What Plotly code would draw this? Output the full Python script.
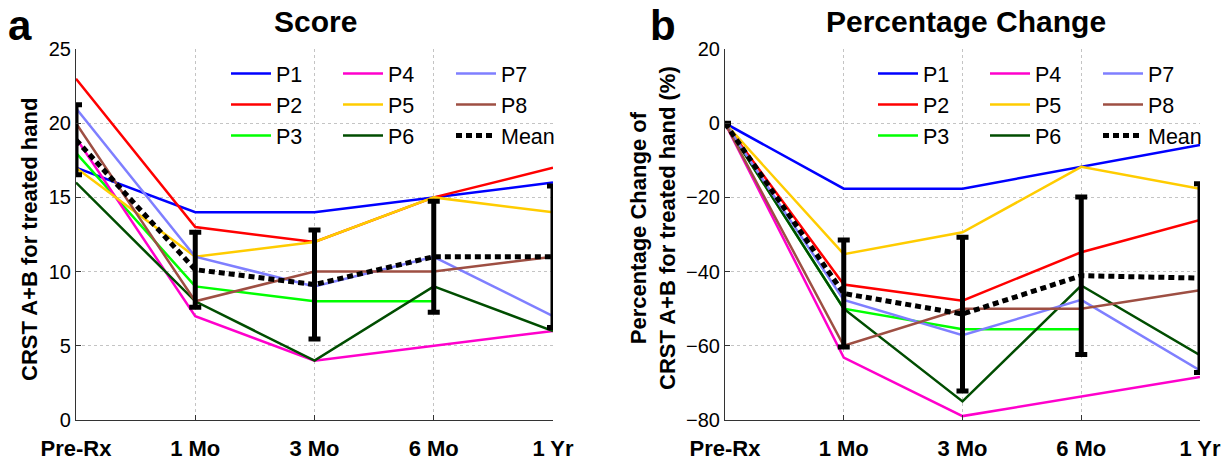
import plotly.graph_objects as go

categories = ["Pre-Rx", "1 Mo", "3 Mo", "6 Mo", "1 Yr"]
names = ["P1", "P2", "P3", "P4", "P5", "P6", "P7", "P8"]
colors = ["#0000FF", "#FF0000", "#00FF00", "#FF00CC", "#FFCC00", "#004D00", "#7F7FFF", "#9E4F43"]

# Score (CRST A+B), None = missing
score_p1 = [17, 14, 14, 15, 16]
score_p2 = [23, 13, 12, 15, 17]
score_p3 = [18, 9, 8, 8, None]
score_p4 = [19, 7, 4, 5, 6]
score_p5 = [17, 11, 12, 15, 14]
score_p6 = [16, 8, 4, 9, 6]
score_p7 = [21, 11, 9, 11, 7]
score_p8 = [20, 8, 10, 10, 11]
score_mean = [18.88, 10.13, 9.13, 11.0, 11.0]
score_sd = [2.36, 2.53, 3.68, 3.74, 4.76]

# Percentage change (%)
pct_p1 = [0, -17.65, -17.65, -11.76, -5.88]
pct_p2 = [0, -43.48, -47.83, -34.78, -26.09]
pct_p3 = [0, -50.0, -55.56, -55.56, None]
pct_p4 = [0, -63.16, -78.95, -73.68, -68.42]
pct_p5 = [0, -35.29, -29.41, -11.76, -17.65]
pct_p6 = [0, -50.0, -75.0, -43.75, -62.5]
pct_p7 = [0, -47.62, -57.14, -47.62, -66.67]
pct_p8 = [0, -60.0, -50.0, -50.0, -45.0]
pct_mean = [0, -45.9, -51.44, -41.11, -41.74]
pct_sd = [0, 14.39, 20.71, 21.25, 25.45]

score_series = [score_p1, score_p2, score_p3, score_p4, score_p5, score_p6, score_p7, score_p8]
pct_series = [pct_p1, pct_p2, pct_p3, pct_p4, pct_p5, pct_p6, pct_p7, pct_p8]

FONT = "Liberation Sans, Arial, Helvetica, sans-serif"
fig = go.Figure()

# legend column assignment: P1-P3 col1, P4-P6 col2, P7-P8+Mean col3
def legend_for(i, panel):
    col = i // 3
    return "legend" if (panel == 0 and col == 0) else "legend%d" % (panel * 3 + col + 1)

for panel, (series, mean, sd, xa, ya) in enumerate([
        (score_series, score_mean, score_sd, "x", "y"),
        (pct_series, pct_mean, pct_sd, "x2", "y2")]):
    for i, (nm, vals) in enumerate(zip(names, series)):
        fig.add_trace(go.Scatter(
            x=categories, y=vals, name=nm, mode="lines",
            line=dict(color=colors[i], width=2.5),
            xaxis=xa, yaxis=ya, legend=legend_for(i, panel),
            connectgaps=False, cliponaxis=False))
    fig.add_trace(go.Scatter(
        x=categories, y=mean, name="Mean", mode="lines",
        line=dict(color="black", width=5, dash="6px,4px"),
        error_y=dict(type="data", array=sd, visible=True, color="black",
                     thickness=5, width=6),
        xaxis=xa, yaxis=ya, legend=legend_for(8, panel), cliponaxis=False))

W, H = 1230, 464
ml, mr, mt, mb = 76, 30, 49, 44
pw = W - ml - mr
ph = H - mt - mb
d1 = (553 - ml) / pw
d2 = (725 - ml) / pw

axis_common = dict(
    showline=True, linecolor="#333333", linewidth=1.2, mirror=False,
    ticks="inside", ticklen=5, tickcolor="#333333",
    showgrid=True, gridcolor="#c4c4c4", griddash="dot", gridwidth=1,
    zeroline=False, automargin=False,
)

fig.update_layout(
    width=W, height=H,
    margin=dict(l=ml, r=mr, t=mt, b=mb),
    paper_bgcolor="white", plot_bgcolor="white",
    font=dict(family=FONT, color="black", size=20),
    xaxis=dict(domain=[0, d1], range=[0, 4], type="category", ticklabelstandoff=8,
               tickfont=dict(size=22, family=FONT, weight="bold"), **axis_common),
    xaxis2=dict(domain=[d2, 1], range=[0, 4], type="category", anchor="y2", ticklabelstandoff=8,
                tickfont=dict(size=22, family=FONT, weight="bold"), **axis_common),
    yaxis=dict(range=[0, 25], tickvals=[0, 5, 10, 15, 20, 25],
               tickfont=dict(size=20), **axis_common),
    yaxis2=dict(range=[-80, 20], tickvals=[-80, -60, -40, -20, 0, 20], anchor="x2",
                tickfont=dict(size=20), **axis_common),
    showlegend=True,
)

leg_y = 1 - 4 / ph
leg_common = dict(bgcolor="rgba(0,0,0,0)", borderwidth=0, font=dict(size=21.5, family=FONT),
                  yanchor="top", xanchor="left", y=leg_y, traceorder="normal",
                  itemwidth=40, tracegroupgap=0)
col_x_left = [226, 338, 451]
col_x_right = [873, 985, 1098]
legend_keys = ["legend", "legend2", "legend3", "legend4", "legend5", "legend6"]
for k, px in zip(legend_keys, col_x_left + col_x_right):
    fig.update_layout({k: dict(x=(px - ml) / pw, **leg_common)})

# titles and labels
fig.add_annotation(text="<b>Score</b>", xref="paper", yref="paper",
                   x=(315 - ml) / pw, y=1 + (49 - 21) / ph,
                   showarrow=False, font=dict(size=30), xanchor="center", yanchor="middle")
fig.add_annotation(text="<b>Percentage Change</b>", xref="paper", yref="paper",
                   x=(966 - ml) / pw, y=1 + (49 - 21) / ph,
                   showarrow=False, font=dict(size=30), xanchor="center", yanchor="middle")
fig.add_annotation(text="<b>a</b>", xref="paper", yref="paper",
                   x=(20 - ml) / pw, y=1 + (49 - 26) / ph,
                   showarrow=False, font=dict(size=42), xanchor="center", yanchor="middle")
fig.add_annotation(text="<b>b</b>", xref="paper", yref="paper",
                   x=(663 - ml) / pw, y=1 + (49 - 26) / ph,
                   showarrow=False, font=dict(size=42), xanchor="center", yanchor="middle")
fig.add_annotation(text="<b>CRST A+B for treated hand</b>", xref="paper", yref="paper",
                   x=(29 - ml) / pw, y=(420 - 240) / ph, textangle=-90,
                   showarrow=False, font=dict(size=22), xanchor="center", yanchor="middle")
fig.add_annotation(text="<b>Percentage Change of<br>CRST A+B for treated hand (%)</b>",
                   xref="paper", yref="paper",
                   x=(653 - ml) / pw, y=(420 - 228) / ph, textangle=-90,
                   showarrow=False, font=dict(size=22), xanchor="center", yanchor="middle")

fig.write_html("out.html", config={"displayModeBar": False},
               post_script="document.body.style.margin='0px';")
